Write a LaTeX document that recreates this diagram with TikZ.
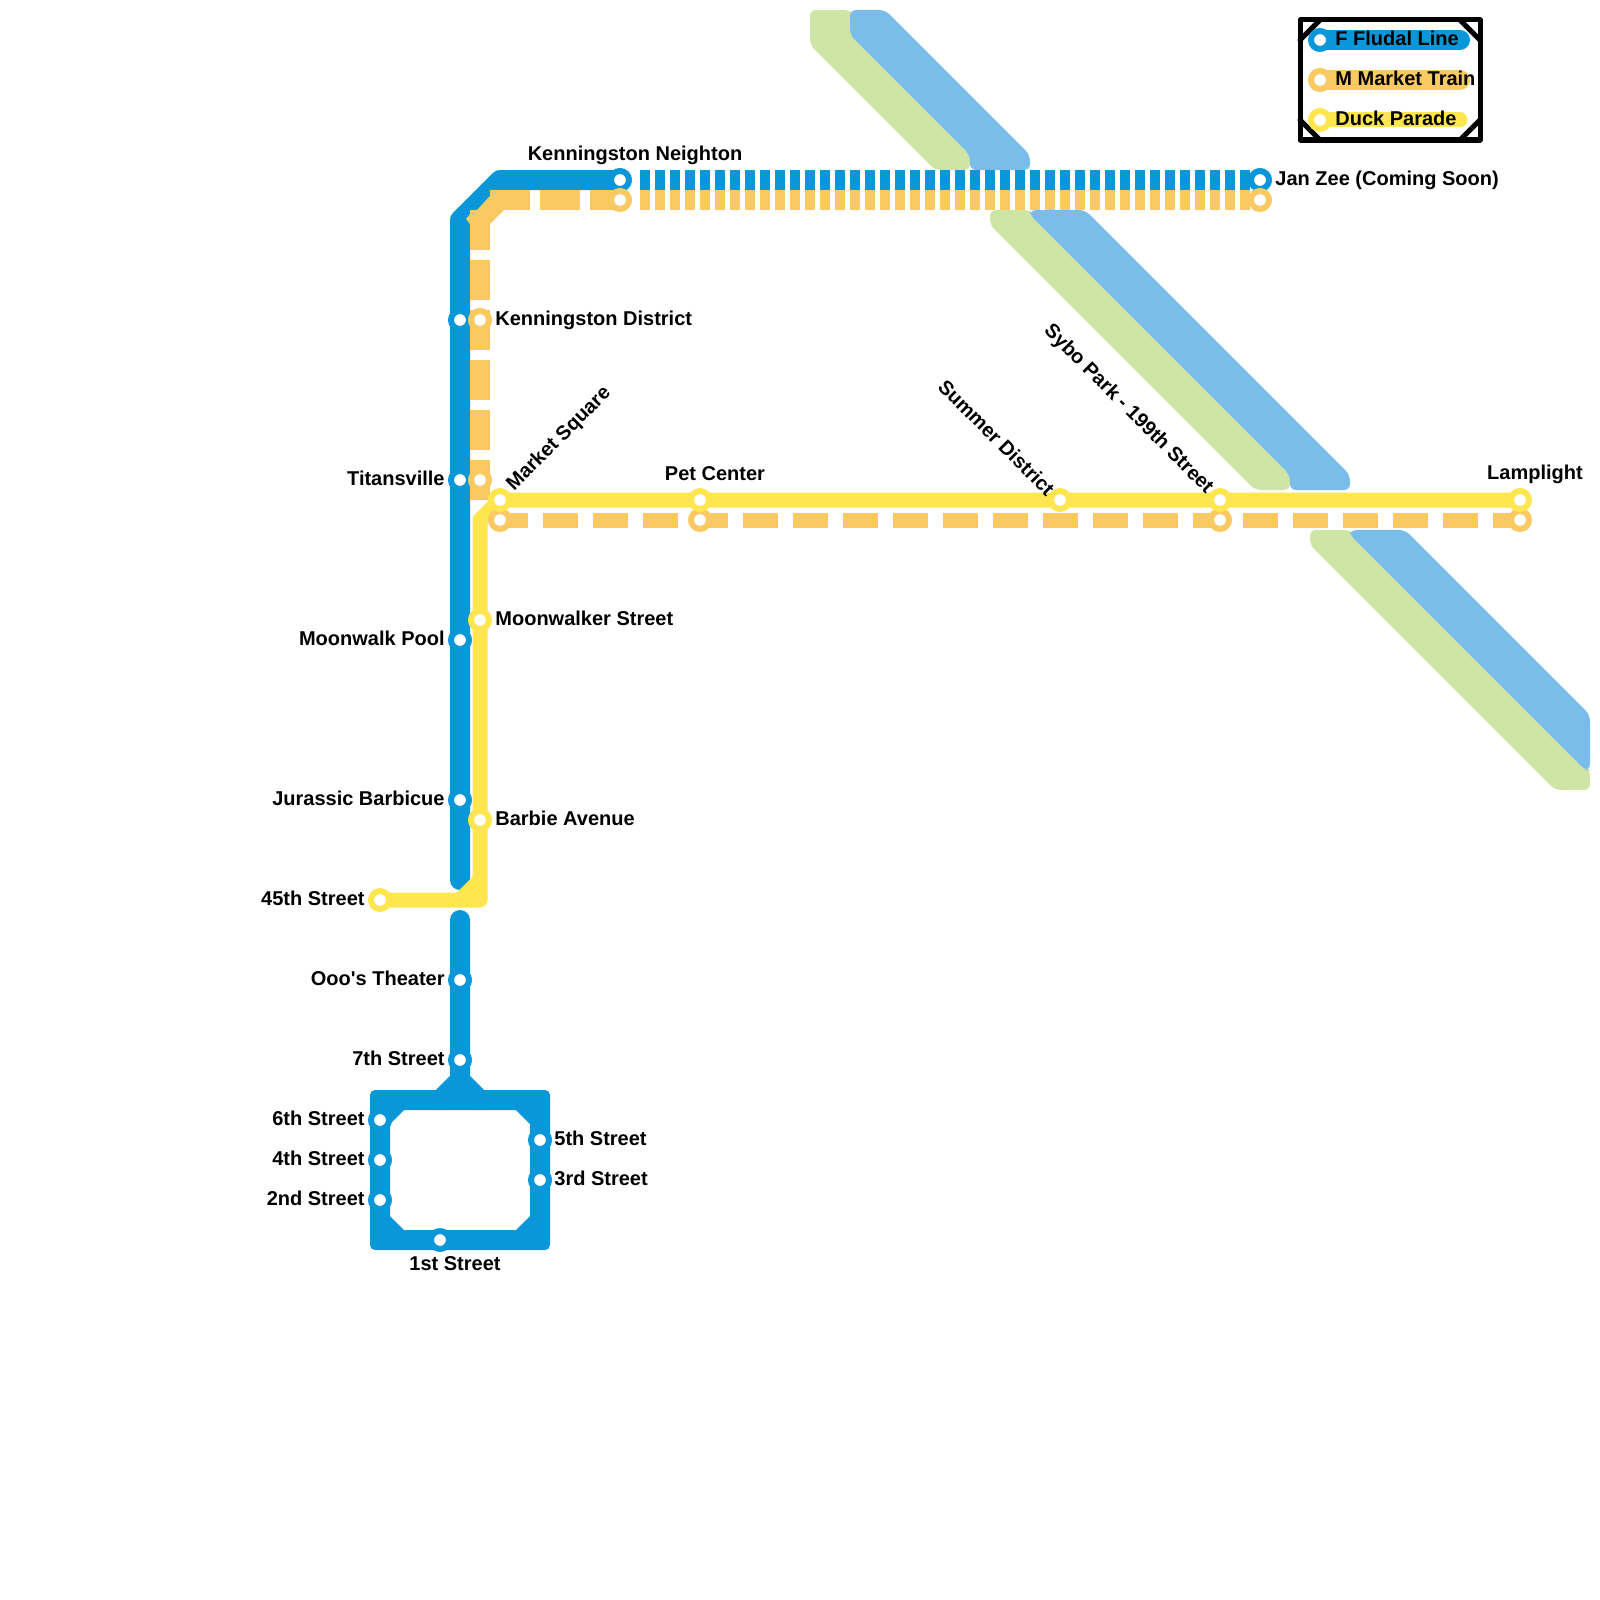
\documentclass[tikz,border=0pt]{standalone}
\usepackage{fontspec}
\setmainfont{Liberation Sans}
\usetikzlibrary{positioning}
\definecolor{fludal}{HTML}{0A97D9}
\definecolor{market}{HTML}{F9C962}
\definecolor{duck}{HTML}{FFE54F}
\definecolor{parkgreen}{HTML}{CFE5A5}
\definecolor{water}{HTML}{7ABDE8}
\tikzset{
  fline/.style={line width=10pt,draw=fludal,line cap=round,line join=round},
  mline/.style={line width=10pt,draw=market},
  yline/.style={line width=7.5pt,draw=duck,line join=round},
  stn/.style={circle,fill=white,draw=#1,line width=3pt,minimum size=9pt,inner sep=0pt,outer sep=0pt},
  lbl/.style={font=\fontsize{10}{11}\bfseries,text=black,inner sep=0pt},
  river/.style={rounded corners=3pt}
}
\begin{document}
\begin{tikzpicture}[x=0.5pt,y=-0.5pt]
  \useasboundingbox (0,0) rectangle (1600,1600);

  % parks and water
  \fill[river,parkgreen] (810,10) -- (850,10) -- (970,130) -- (970,170) -- (935,170) -- (810,45) -- cycle;
  \fill[river,water] (850,10) -- (885,10) -- (1030,155) -- (1030,170) -- (970,170) -- (970,155) -- (850,35) -- cycle;
  \fill[river,parkgreen] (990,210) -- (1030,210) -- (1290,470) -- (1290,490) -- (1255,490) -- (990,225) -- cycle;
  \fill[river,water] (1030,210) -- (1085,210) -- (1350,475) -- (1350,490) -- (1290,490) -- (1290,475) -- (1030,215) -- cycle;
  \fill[river,parkgreen] (1310,530) -- (1350,530) -- (1590,770) -- (1590,790) -- (1555,790) -- (1310,545) -- cycle;
  \fill[river,water] (1350,530) -- (1405,530) -- (1590,715) -- (1590,770) -- (1585,770) -- (1350,535) -- cycle;

  % bends and line ends
  \foreach \nm/\x/\y in {ftop/460/220,fbend/500/180,fend/460/880,fstart/460/920,fsplit/460/1080,fsl/440/1100,fsr/480/1100,fdash/640/180,
                         mstart/480/500,mtop/480/210,mbend/490/200,mdash/640/200,
                         ybend/500/500,ycorner/480/520,yfoot/480/900,yjoin/460/900,yrise/480/880,
                         fkeyend/1460/40,mkeyend/1460/80,ykeyend/1460/120} {
    \coordinate (\nm) at (\x,\y);
  }

  % stations
  \foreach \nm/\x/\y in {kneigh/620/180,jan/1260/180,kdist/460/320,titan/460/480,moon/460/640,jura/460/800,ooo/460/980,seventh/460/1060,
                         sixth/380/1120,fourth/380/1160,second/380/1200,first/440/1240,fifth/540/1140,third/540/1180,fkey/1320/40} {
    \coordinate (\nm) at (\x,\y);
  }
  \foreach \nm/\x/\y in {mneigh/620/200,mjan/1260/200,mkdist/480/320,mtitan/480/480,msquare/500/520,mpet/700/520,msybo/1220/520,mlamp/1520/520,mkey/1320/80} {
    \coordinate (\nm) at (\x,\y);
  }
  \foreach \nm/\x/\y in {ysquare/500/500,ymoon/480/620,ybarbie/480/820,yfive/380/900,ypet/700/500,ysummer/1060/500,ysybo/1220/500,ylamp/1520/500,ykey/1320/120} {
    \coordinate (\nm) at (\x,\y);
  }

  % legend frame
  \draw[line width=2.5pt,line cap=round,line join=round] (1300,20) rectangle (1480,140);
  \foreach \xa/\ya/\xb/\yb in {1320/20/1300/40,1460/20/1480/40,1300/120/1320/140,1480/120/1460/140} {
    \draw[line width=2.5pt,line cap=round] (\xa,\ya) -- (\xb,\yb);
  }
  \draw[fline] (fkey) -- (fkeyend);
  \draw[mline,line cap=round] (mkey) -- (mkeyend);
  \draw[yline,line cap=round] (ykey) -- (ykeyend);

  % fludal line
  \draw[fline] (fend) -- (ftop) -- (fbend) -- (kneigh);
  \draw[fline] (fstart) -- (seventh) -- (fsplit) -- (fsl);
  \draw[fline] (fsplit) -- (fsr);
  \fill[fludal,even odd rule,rounded corners=2.5pt] (370,1090) rectangle (550,1250)
    [sharp corners] (404,1110) -- (516,1110) -- (530,1124) -- (530,1216) -- (516,1230) -- (404,1230) -- (390,1216) -- (390,1124) -- cycle;
  \draw[fline,line cap=butt,dash pattern=on 5pt off 2.5pt] (fdash) -- (jan);

  % market line
  \draw[mline,dash pattern=on 20pt off 5pt] (mstart) -- (mtop);
  \draw[mline,dash pattern=on 20pt off 5pt] (mbend) -- (mneigh);
  \fill[market] (490,190) -- (490,196) -- (477,210) -- (470,214) -- (466,219) -- (470,224) -- (490,224) -- (504,210) -- (490,210) -- cycle;
  \draw[mline,dash pattern=on 5pt off 2.5pt] (mdash) -- (mjan);
  \draw[mline,line width=7.5pt,dash pattern=on 17.5pt off 7.5pt,dash phase=3.5pt] (msquare) -- (mlamp);

  % duck parade
  \draw[yline] (ylamp) -- (ybend) -- (ycorner) -- (yfoot) -- (yfive);
  \draw[yline] (yjoin) -- (yrise);

  % station markers
  \foreach \nm in {kneigh,jan,kdist,titan,moon,jura,ooo,seventh,sixth,fourth,second,first,fifth,third,fkey} {
    \node[stn=fludal] (n\nm) at (\nm) {};
  }
  \foreach \nm in {mneigh,mjan,mkdist,mtitan,msquare,mpet,msybo,mlamp,mkey} {
    \node[stn=market] (n\nm) at (\nm) {};
  }
  \foreach \nm in {ysquare,ymoon,ybarbie,yfive,ypet,ysummer,ysybo,ylamp,ykey} {
    \node[stn=duck] (n\nm) at (\nm) {};
  }

  % labels
  \foreach \nm/\x/\y/\txt in {ltitan/445/478/Titansville,lmoon/445/638/Moonwalk Pool,ljura/445/798/Jurassic Barbicue,lfive/365/898/45th Street,
                              looo/445/978/Ooo\textquotesingle s Theater,lseventh/445/1058/7th Street,lsixth/365/1118/6th Street,lfourth/365/1158/4th Street,lsecond/365/1198/2nd Street} {
    \node[lbl,anchor=east] (\nm) at (\x,\y) {\txt};
  }
  \foreach \nm/\x/\y/\txt in {lkdist/495/320/Kenningston District,lmoonw/495/618/Moonwalker Street,lbarbie/495/818/Barbie Avenue,lfifth/554/1138/5th Street,
                              lthird/554/1178/3rd Street,ljan/1275/180/Jan Zee (Coming Soon),lfkey/1335/38/F Fludal Line,lmkey/1335/78/M Market Train,lykey/1335/118/Duck Parade} {
    \node[lbl,anchor=west] (\nm) at (\x,\y) {\txt};
  }
  \foreach \nm/\x/\y/\txt in {lneigh/635/155/Kenningston Neighton,lpet/715/474/Pet Center,llamp/1535/474/Lamplight,lfirst/455/1264/1st Street} {
    \node[lbl] (\nm) at (\x,\y) {\txt};
  }
  \node[lbl,rotate=45,anchor=south west] (lsquare) at (517,495) {Market Square};
  \node[lbl,rotate=-45,anchor=south east] (lsummer) at (1046,498) {Summer District};
  \node[lbl,rotate=-45,anchor=south east] (lsybo) at (1203,498) {Sybo Park - 199th Street};
\end{tikzpicture}
\end{document}
